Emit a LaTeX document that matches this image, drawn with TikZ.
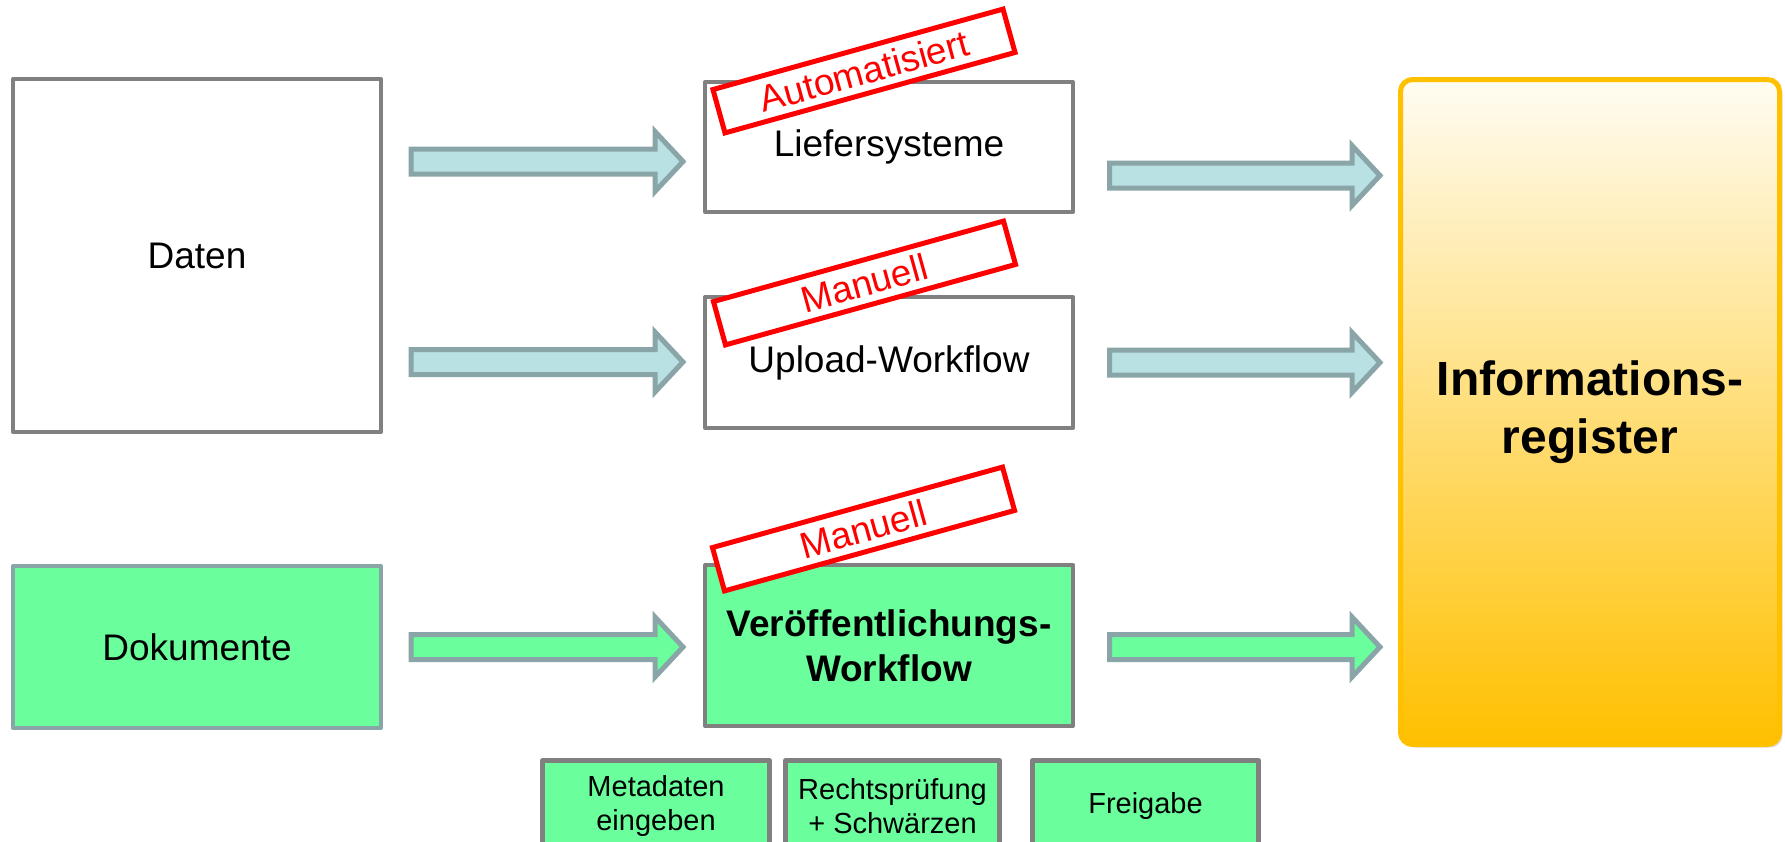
\documentclass[tikz,border=0pt]{standalone}
\usepackage{fontspec}
\setmainfont{Liberation Sans}
\usepackage{tikz}
\usetikzlibrary{positioning, calc, shadows}
\definecolor{boxgray}{HTML}{808080}
\definecolor{arrowgray}{HTML}{8AA5A7}
\definecolor{arrowcyan}{HTML}{B9E0E3}
\definecolor{docgreen}{HTML}{6AFF9C}
\definecolor{regorange}{HTML}{FFC000}
\definecolor{regmid}{HTML}{FFE083}
\definecolor{regtop}{HTML}{FFFCF2}
\definecolor{stampred}{HTML}{FF0000}
\tikzstyle{databox} = [rectangle, draw=boxgray, line width=4pt, fill=white, minimum width=368pt,
                       inner sep=0pt, align=center, line join=round, font=\fontsize{37}{45}\selectfont]
\tikzstyle{docbox} = [databox, draw=arrowgray, fill=docgreen]
\tikzstyle{workflowbox} = [databox, minimum height=131pt]
\tikzstyle{stepbox} = [rectangle, draw=boxgray, line width=5pt, fill=docgreen, minimum height=91pt,
                       inner sep=0pt, align=center, line join=round, font=\fontsize{29}{34}\selectfont]
\tikzstyle{stampbox} = [rectangle, draw=stampred, line width=5pt, fill=white, text=stampred, rotate=15.5,
                        minimum width=301pt, minimum height=45pt, inner sep=0pt, font=\fontsize{37}{45}\selectfont]
\tikzstyle{registerbox} = [rectangle, rounded corners=12pt, draw=regorange, line width=5pt,
                           top color=regtop, middle color=regmid, bottom color=regorange,
                           minimum width=379pt, minimum height=665pt, align=center,
                           drop shadow={shadow xshift=3pt, shadow yshift=-3pt, opacity=0.25},
                           font=\bfseries\fontsize{48}{58}\selectfont]
\tikzstyle{blockarrow} = [line width=5pt, draw=arrowgray, fill=arrowcyan, line join=miter]
\tikzstyle{greenarrow} = [blockarrow, fill=docgreen]
% block arrow from #2 to tip #3
\newcommand{\blockarrow}[3]{%
  \draw[#1] ($(#2)+(0,-12.5)$) -- ($(#3)+(-28,-12.5)$) -- ($(#3)+(-28,-30)$) -- (#3)
    -- ($(#3)+(-28,30)$) -- ($(#3)+(-28,12.5)$) -- ($(#2)+(0,12.5)$) -- cycle;}

\begin{document}
\begin{tikzpicture}[x=1pt, y=-1pt]
    \useasboundingbox (0,0) rectangle (1785,841);
    \clip (0,0) rectangle (1785,841);

    % Column 1: sources
    \node[databox, minimum height=353pt] (daten) at (197,255.5) {Daten};
    \node[docbox, minimum height=162pt] (dokumente) at (197,647) {Dokumente};

    % Column 2: workflows
    \node[workflowbox, minimum height=130pt] (liefer) at (889,147) {Liefersysteme};
    \node[workflowbox] (upload) at (889,362.5) {Upload-Workflow};
    \node[docbox, draw=boxgray, minimum height=161pt, font=\bfseries\fontsize{37}{45}\selectfont]
        (veroeff) at (889,645.5) {Veröffentlichungs-\\Workflow};

    % Column 3: register
    \node[registerbox] (register) at (1590,412) {Informations-\\register};

    % Steps of the publication workflow
    \node[stepbox, minimum width=227pt] (metadaten) at (656,806) {Metadaten\\eingeben};
    \node[stepbox, minimum width=214pt, right=11pt of metadaten] (recht) {Rechtsprüfung\\+ Schwärzen};
    \node[stepbox, minimum width=226pt, right=28pt of recht] (freigabe) {Freigabe};

    % Stamps
    \node[stampbox] (stampLiefer) at (864,71) {Automatisiert};
    \node[stampbox] (stampUpload) at (864.5,283) {Manuell};
    \node[stampbox] (stampVeroeff) at (863.5,529) {Manuell};

    % Arrow ends
    \coordinate (datenOutA) at (411,161.5);
    \coordinate (lieferIn) at (683,161.5);
    \coordinate (datenOutB) at (411,362);
    \coordinate (uploadIn) at (683,362);
    \coordinate (dokOut) at (411,647);
    \coordinate (veroeffIn) at (683,647);
    \coordinate (lieferOut) at (1109.5,175.5);
    \coordinate (registerInA) at (1380,175.5);
    \coordinate (uploadOut) at (1109.5,362.5);
    \coordinate (registerInB) at (1380,362.5);
    \coordinate (veroeffOut) at (1109.5,647);
    \coordinate (registerInC) at (1380,647);

    % Arrows
    \blockarrow{blockarrow}{datenOutA}{lieferIn}
    \blockarrow{blockarrow}{datenOutB}{uploadIn}
    \blockarrow{greenarrow}{dokOut}{veroeffIn}
    \blockarrow{blockarrow}{lieferOut}{registerInA}
    \blockarrow{blockarrow}{uploadOut}{registerInB}
    \blockarrow{greenarrow}{veroeffOut}{registerInC}
\end{tikzpicture}
\end{document}
